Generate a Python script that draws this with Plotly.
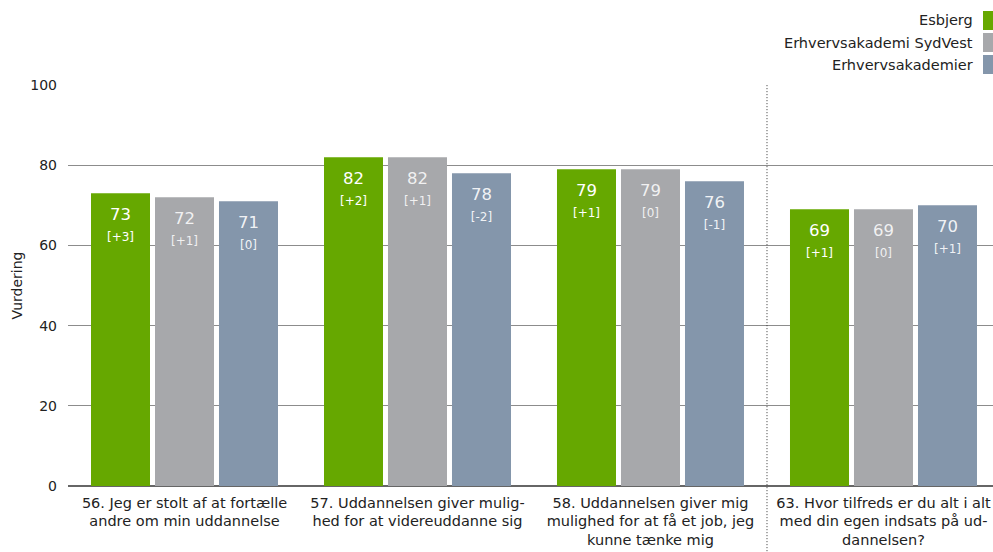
import plotly.graph_objects as go

# Survey items (x-axis categories), wrapped as they appear on the axis
categories = [
    "56. Jeg er stolt af at fortælle<br>andre om min uddannelse",
    "57. Uddannelsen giver mulig-<br>hed for at videreuddanne sig",
    "58. Uddannelsen giver mig<br>mulighed for at få et job, jeg<br>kunne tænke mig",
    "63. Hvor tilfreds er du alt i alt<br>med din egen indsats på ud-<br>dannelsen?",
]

series_names = ["Esbjerg", "Erhvervsakademi SydVest", "Erhvervsakademier"]
esbjerg = [73, 82, 79, 69]
sydvest = [72, 82, 79, 69]
akademier = [71, 78, 76, 70]
esbjerg_change = ["+3", "+2", "+1", "+1"]
sydvest_change = ["+1", "+1", "0", "0"]
akademier_change = ["0", "-2", "-1", "+1"]

y_ticks = [0, 20, 40, 60, 80, 100]

colors = ["#66a800", "#a7a8ab", "#8496ab"]
text_colors = ["#ffffff", "rgba(255,255,255,0.85)", "rgba(255,255,255,0.9)"]
FONT = "DejaVu Sans"

fig = go.Figure()
for name, vals, changes, col, tcol in zip(
    series_names,
    [esbjerg, sydvest, akademier],
    [esbjerg_change, sydvest_change, akademier_change],
    colors,
    text_colors,
):
    labels = [
        f"<span style='font-size:2px'>&nbsp;</span><br>{v}<br><span style='font-size:12px'>[{c}]</span>"
        for v, c in zip(vals, changes)
    ]
    fig.add_trace(go.Bar(
        x=categories, y=vals, name=name,
        marker=dict(color=col, line=dict(width=0)),
        text=labels, textposition="inside", insidetextanchor="end",
        textangle=0, constraintext="none",
        textfont=dict(family=FONT, size=16.5, color=tcol),
        hoverinfo="skip",
    ))

fig.update_layout(
    width=993, height=552,
    margin=dict(l=68, r=0, t=85, b=66, autoexpand=False),
    barmode="group", bargap=0.176, bargroupgap=0.078,
    plot_bgcolor="white", paper_bgcolor="white",
    showlegend=False,
    font=dict(family=FONT, size=14, color="#222"),
    xaxis=dict(
        range=[-0.5, 3.47], showgrid=False, ticks="", showline=False,
        tickfont=dict(family=FONT, size=14.5, color="#222"),
        ticklabelstandoff=6,
        fixedrange=True,
    ),
    yaxis=dict(
        range=[0, 100], tickvals=y_ticks, showgrid=True,
        gridcolor="#8c8c8c", gridwidth=1, zeroline=True,
        zerolinecolor="#666", zerolinewidth=1.5, ticks="",
        ticklabelstandoff=10,
        tickfont=dict(family=FONT, size=14, color="#222"),
        title=dict(text="Vurdering", font=dict(family=FONT, size=14, color="#222"), standoff=4),
    ),
)

# Custom legend: right-aligned names with a swatch to their right
legend_y = [20, 43, 65]
swatch_tops = [11, 33, 55]
for name, col, yy, top in zip(series_names, colors, legend_y, swatch_tops):
    fig.add_annotation(
        xref="paper", yref="paper", x=(975 - 68) / 925, y=(486 - yy) / 401,
        text=name, showarrow=False, xanchor="right", yanchor="middle",
        font=dict(family=FONT, size=14.5, color="#222"),
    )
    fig.add_shape(
        type="rect", xref="paper", yref="paper",
        x0=(983 - 68) / 925, x1=(993 - 68) / 925,
        y0=(486 - top) / 401, y1=(486 - top - 19) / 401,
        fillcolor=col, line=dict(width=0),
    )

# Dotted divider between the first three items and the last one
fig.add_shape(
    type="line", xref="x", yref="paper", x0=2.5, x1=2.5, y0=-0.17, y1=1.0,
    line=dict(color="#333", width=1, dash="1px,2px"),
)

fig.write_html("out.html")
